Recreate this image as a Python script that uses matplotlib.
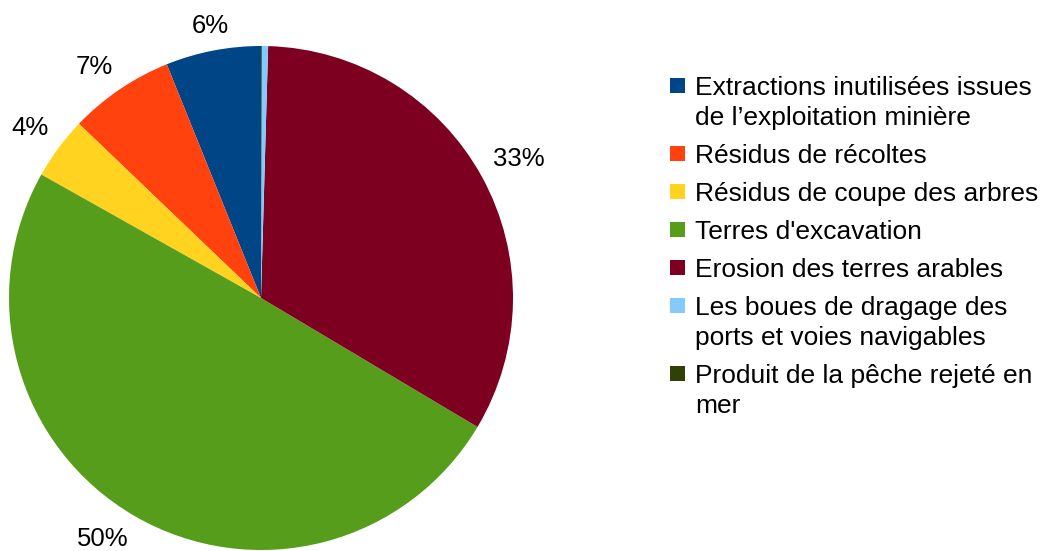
import matplotlib
matplotlib.use("Agg")
import numpy as np
import matplotlib.pyplot as plt
from matplotlib.patches import Rectangle

plt.rcParams["font.family"] = ["Liberation Sans", "DejaVu Sans"]

labels = [
    "Extractions inutilisées issues\nde l\u2019exploitation minière",
    "Résidus de récoltes",
    "Résidus de coupe des arbres",
    "Terres d'excavation",
    "Erosion des terres arables",
    "Les boues de dragage des\nports et voies navigables",
    "Produit de la pêche rejeté en\nmer",
]
values = [6.1, 6.75, 4.0, 49.6, 33.1, 0.4, 0.05]
colors = ["#004586", "#ff420e", "#ffd320", "#579d1c", "#7e0021", "#83caff", "#314004"]

W, H = 1042, 551


def main():
    fig = plt.figure(figsize=(W / 100, H / 100), dpi=100)

    cx, cy, r = 261, 298, 252
    ax = fig.add_axes([(cx - r) / W, (H - cy - r) / H, 2 * r / W, 2 * r / H])

    wedges, _ = ax.pie(values, colors=colors, startangle=90, counterclock=True,
                       radius=1, wedgeprops=dict(linewidth=0))
    total = sum(values)
    # percentage labels outside, aligned away from the pie
    for w, v in zip(wedges, values):
        p = 100 * v / total
        if p < 1:
            continue
        a = np.deg2rad((w.theta1 + w.theta2) / 2)
        c, s = np.cos(a), np.sin(a)
        ha = "center" if abs(c) < 0.25 else ("left" if c > 0 else "right")
        va = "bottom" if s > 0 else "top"
        ax.text(1.05 * c, 1.05 * s, "%.0f%%" % p, ha=ha, va=va,
                fontsize=18.5, color="#000000")
    ax.set_xlim(-1, 1)
    ax.set_ylim(-1, 1)
    ax.set_aspect("equal")
    ax.axis("off")

    # legend drawn by hand so the square sits on the first line
    base = 95
    for lab, col in zip(labels, colors):
        lines = lab.split("\n")
        fig.patches.append(Rectangle((670 / W, 1 - (base - 2) / H), 15 / W, 15 / H,
                                     transform=fig.transFigure, facecolor=col,
                                     edgecolor="none"))
        for i, line in enumerate(lines):
            fig.text(695 / W, 1 - (base + 30 * i) / H, line, fontsize=19,
                     va="baseline", ha="left", color="#000000")
        base += 38 + 30 * (len(lines) - 1)

    fig.savefig("out.png", dpi=100)
    plt.close(fig)


if __name__ == "__main__":
    main()
